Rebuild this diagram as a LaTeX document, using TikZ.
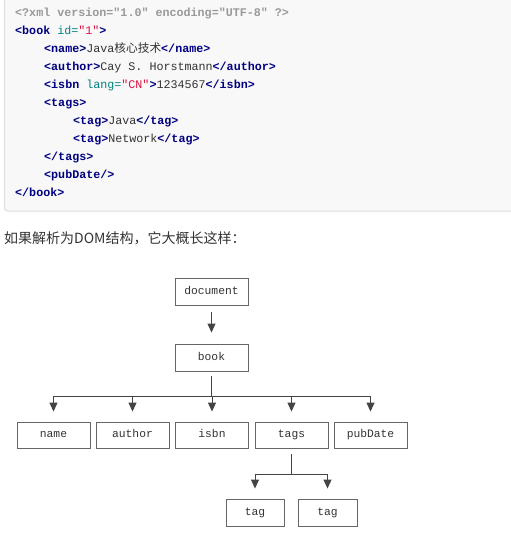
\documentclass[tikz,border=0pt]{standalone}
\usepackage{fontspec}
\usetikzlibrary{arrows.meta}
\newfontfamily\codefont{Liberation Mono}
\newfontfamily\cjk{Noto Sans CJK SC}
\definecolor{codebg}{HTML}{F8F8F8}
\definecolor{codeborder}{HTML}{DDDDDD}
\definecolor{tagc}{HTML}{000080}
\definecolor{attrc}{HTML}{008080}
\definecolor{strc}{HTML}{DD1144}
\definecolor{metac}{HTML}{999999}
\definecolor{txt}{HTML}{333333}
\definecolor{boxc}{HTML}{666666}
\definecolor{linec}{HTML}{444444}
\newcommand\xtag[1]{{\bfseries\color{tagc}#1}}
\newcommand\xattr[1]{{\color{attrc}#1}}
\newcommand\xstr[1]{{\color{strc}#1}}
\tikzset{
  box/.style={draw=boxc, line width=0.9pt, fill=white, minimum width=73pt,
    minimum height=27pt, inner sep=0pt, text=txt, text height=7.5pt, text depth=2.2pt,
    font=\codefont\fontsize{11.3}{12}\selectfont},
  conn/.style={draw=linec, line width=1pt},
  arr/.style={conn, -{Triangle[width=8pt,length=9pt]}},
  codeln/.style={anchor=base west, inner sep=0pt, text=txt,
    font=\codefont\fontsize{11.7}{14}\selectfont\frenchspacing}
}
\begin{document}
\begin{tikzpicture}[x=1pt,y=-1pt]
\useasboundingbox (0,0) rectangle (511,552);
\fill[white] (0,0) rectangle (511,552);
\draw[draw=codeborder, fill=codebg, line width=1pt, rounded corners=3pt] (4.5,-6) rectangle (530,211);
% code lines
\node[codeln] (c1) at (15,16.5) {{\bfseries\color{metac}<?xml version="1.0" encoding="UTF-8" ?>}};
\node[codeln] (c2) at (15,34.5) {\xtag{<book} \xattr{id=}\xstr{"1"}\xtag{>}};
\node[codeln] (c3) at (44,52.5) {\xtag{<name>}Java{\cjk 核心技术}\xtag{</name>}};
\node[codeln] (c4) at (44,70.5) {\xtag{<author>}Cay S. Horstmann\xtag{</author>}};
\node[codeln] (c5) at (44,88.5) {\xtag{<isbn} \xattr{lang=}\xstr{"CN"}\xtag{>}1234567\xtag{</isbn>}};
\node[codeln] (c6) at (44,106.5) {\xtag{<tags>}};
\node[codeln] (c7) at (73,124.5) {\xtag{<tag>}Java\xtag{</tag>}};
\node[codeln] (c8) at (73,142.5) {\xtag{<tag>}Network\xtag{</tag>}};
\node[codeln] (c9) at (44,160.5) {\xtag{</tags>}};
\node[codeln] (c10) at (44,178.5) {\xtag{<pubDate/>}};
\node[codeln] (c11) at (15,196.5) {\xtag{</book>}};
% intro sentence
\node[anchor=base west, inner sep=0pt, text=txt, font=\cjk\fontsize{14}{16}\selectfont] (intro) at (4,243) {如果解析为DOM结构，它大概长这样：};
% tree
\node[box] (document) at (211.5,291.5) {document};
\node[box] (book) at (211.5,357.5) {book};
\node[box, minimum height=26pt] (name) at (53.5,435) {name};
\node[box, minimum height=26pt] (author) at (132.5,435) {author};
\node[box, minimum height=26pt] (isbn) at (212,435) {isbn};
\node[box, minimum height=26pt] (tags) at (291.5,435) {tags};
\node[box, minimum height=26pt] (pubDate) at (370.5,435) {pubDate};
\node[box, minimum width=58pt] (tag1) at (255,512.5) {tag};
\node[box, minimum width=59pt] (tag2) at (327.5,512.5) {tag};
\draw[arr] ([yshift=-7pt]document.south) -- ([yshift=11pt]book.north);
\coordinate (bk) at (211.5,396);
\draw[conn] ([yshift=-5pt]book.south) -- (bk);
\draw[conn] (name.north |- bk) -- (pubDate.north |- bk);
\foreach \n in {name,author,isbn,tags,pubDate}{
  \draw[arr] (\n.north |- bk) -- ([yshift=10pt]\n.north);
}
\coordinate (tg) at (291.5,474);
\draw[conn] ([yshift=-6pt]tags.south) -- (tg);
\draw[conn] (tag1.north |- tg) -- (tag2.north |- tg);
\foreach \n in {tag1,tag2}{
  \draw[arr] (\n.north |- tg) -- ([yshift=10pt]\n.north);
}
\end{tikzpicture}
\end{document}
